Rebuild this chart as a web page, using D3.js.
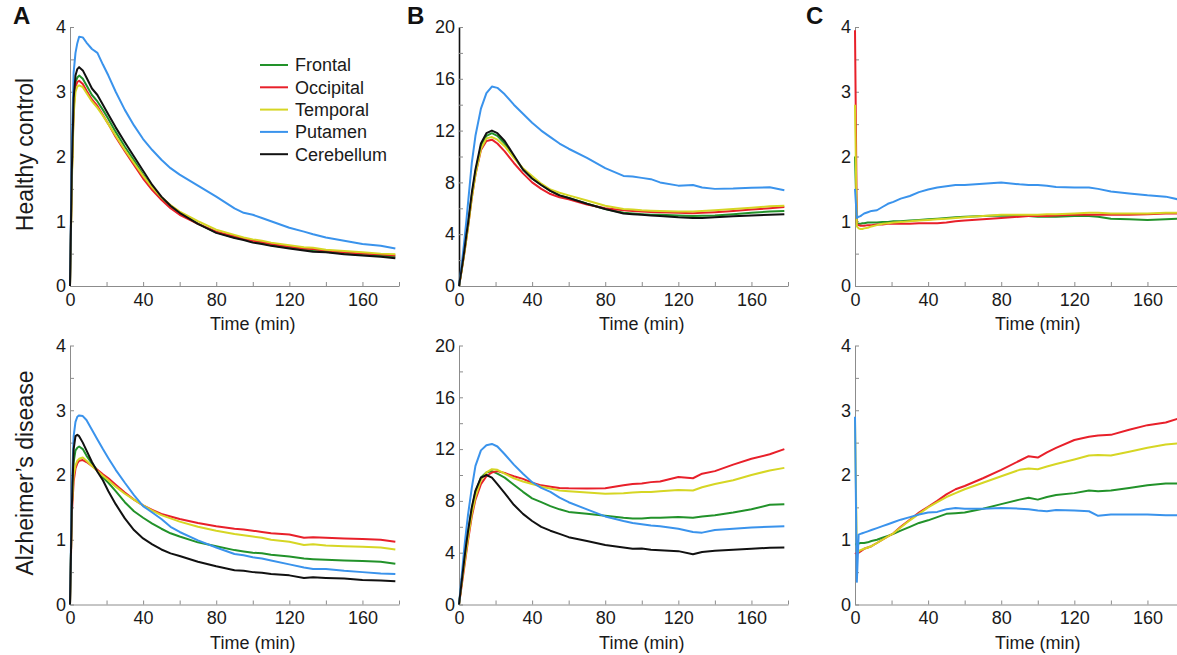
<!DOCTYPE html>
<html>
<head>
<meta charset="utf-8">
<script src="https://cdn.jsdelivr.net/npm/d3@7"></script>
<style>
  body { margin: 0; background: #fff; }
  svg { display: block; font-family: "Liberation Sans", Arial, sans-serif; }
  .axis path, .axis line { stroke: #8c8c8c; stroke-width: 1; }
  .axis text { font-size: 18px; fill: #1a1a1a; }
</style>
</head>
<body>
<svg id="chart" width="1177" height="655"></svg>
<script>
// shared sampling grid (min)
var minutes = [0, 1, 2, 3, 4, 5, 7, 9, 12, 15, 18, 21, 25, 30, 35, 40, 45, 50,
  55, 60, 70, 80, 90, 95, 100, 105, 110, 120, 128, 133, 140, 150, 160, 170, 178];

var regions = ["Frontal", "Occipital", "Temporal", "Putamen", "Cerebellum"];
var regionColors = ["#22922a", "#e8202a", "#d6d624", "#3a93ec", "#111111"];
var rowTitles = ["Healthy control", "Alzheimer\u2019s disease"];
var panelLetters = ["A", "B", "C"];
var timeTicks = [0, 20, 40, 60, 80, 100, 120, 140, 160, 180];

// A, healthy control
var aHcFrontal = [0,1.7,2.8,3.15,3.22,3.25, 3.2,3.1,2.95,2.85,2.72,2.58, 2.38,2.15,1.94,1.72,1.52,1.36,
  1.23,1.12,0.96,0.83,0.75,0.72, 0.68,0.66,0.63,0.59,0.56,0.55, 0.53,0.5,0.48,0.47,0.45];
var aHcOccipital = [0,1.7,2.75,3.08,3.15,3.17, 3.12,3.02,2.88,2.78,2.64,2.5, 2.3,2.08,1.87,1.66,1.48,1.33,
  1.2,1.1,0.96,0.84,0.77,0.73, 0.7,0.68,0.65,0.61,0.58,0.57, 0.55,0.52,0.5,0.49,0.47];
var aHcTemporal = [0,1.6,2.65,3.0,3.08,3.1, 3.07,2.98,2.85,2.75,2.63,2.5, 2.32,2.1,1.9,1.7,1.52,1.37,
  1.25,1.15,1.0,0.87,0.79,0.75, 0.72,0.7,0.67,0.63,0.6,0.59, 0.56,0.54,0.52,0.5,0.49];
var aHcPutamen = [0,2.2,3.3,3.6,3.75,3.85, 3.84,3.76,3.66,3.6,3.42,3.25, 3.0,2.72,2.48,2.27,2.1,1.95,
  1.82,1.72,1.55,1.38,1.2,1.13, 1.1,1.05,1.0,0.9,0.84,0.8, 0.75,0.7,0.65,0.62,0.58];
var aHcCerebellum = [0,1.8,2.9,3.25,3.35,3.38, 3.33,3.22,3.05,2.95,2.8,2.65, 2.45,2.22,2.0,1.78,1.56,1.38,
  1.24,1.13,0.96,0.82,0.74,0.71, 0.67,0.65,0.62,0.58,0.55,0.53, 0.52,0.49,0.47,0.45,0.43];

// A, Alzheimer's disease
var aAdFrontal = [0,1.5,2.2,2.38,2.42,2.44, 2.4,2.3,2.18,2.07,1.96,1.88, 1.75,1.58,1.44,1.34,1.25,1.17,
  1.1,1.05,0.96,0.9,0.84,0.82, 0.8,0.79,0.77,0.74,0.71,0.7, 0.69,0.68,0.67,0.66,0.63];
var aAdOccipital = [0,1.4,1.9,2.1,2.18,2.22, 2.23,2.2,2.14,2.08,2.01,1.95, 1.85,1.73,1.62,1.53,1.46,1.4,
  1.36,1.32,1.26,1.21,1.17,1.16, 1.14,1.12,1.1,1.08,1.03,1.04, 1.03,1.02,1.01,1.0,0.97];
var aAdTemporal = [0,1.5,2.0,2.15,2.22,2.25, 2.27,2.22,2.14,2.06,1.99,1.92, 1.82,1.71,1.62,1.53,1.45,1.38,
  1.33,1.28,1.2,1.14,1.09,1.07, 1.05,1.03,1.0,0.97,0.92,0.93, 0.91,0.9,0.89,0.88,0.85];
var aAdPutamen = [0,1.8,2.6,2.82,2.9,2.92, 2.91,2.85,2.7,2.55,2.4,2.26, 2.08,1.88,1.69,1.52,1.42,1.32,
  1.2,1.12,0.99,0.88,0.78,0.76, 0.73,0.71,0.68,0.62,0.57,0.55, 0.55,0.52,0.5,0.48,0.47];
var aAdCerebellum = [0,1.5,2.4,2.6,2.62,2.6, 2.5,2.38,2.2,2.05,1.92,1.75, 1.55,1.33,1.15,1.02,0.93,0.85,
  0.79,0.75,0.66,0.59,0.53,0.52, 0.5,0.49,0.47,0.45,0.41,0.42, 0.41,0.4,0.38,0.37,0.36];

// B, healthy control
var bHcFrontal = [0,0.9,1.8,2.8,3.8,4.8, 7.0,8.8,10.8,11.6,11.8,11.6, 11.0,10.0,9.0,8.3,7.8,7.35,
  7.0,6.8,6.35,5.95,5.65,5.6, 5.55,5.5,5.5,5.45,5.4,5.42, 5.45,5.55,5.65,5.75,5.8];
var bHcOccipital = [0,0.8,1.7,2.6,3.6,4.6, 6.8,8.6,10.5,11.2,11.3,11.0, 10.4,9.5,8.7,8.0,7.5,7.1,
  6.85,6.7,6.3,6.0,5.85,5.8, 5.75,5.72,5.7,5.65,5.62,5.65, 5.7,5.8,5.9,6.0,6.1];
var bHcTemporal = [0,0.8,1.7,2.6,3.6,4.6, 6.8,8.6,10.6,11.4,11.5,11.3, 10.8,9.9,9.1,8.5,7.9,7.45,
  7.2,7.0,6.6,6.2,5.95,5.9, 5.85,5.82,5.8,5.75,5.75,5.8, 5.85,5.95,6.05,6.15,6.2];
var bHcPutamen = [0,1.1,2.3,3.6,5.0,6.5, 9.5,11.6,13.7,14.9,15.4,15.3, 14.8,14.0,13.3,12.6,12.0,11.5,
  11.0,10.6,9.9,9.1,8.5,8.45, 8.35,8.25,8.0,7.75,7.8,7.6, 7.5,7.52,7.58,7.62,7.4];
var bHcCerebellum = [0,0.9,1.8,2.8,3.9,4.9, 7.2,9.0,11.0,11.8,12.0,11.8, 11.2,10.1,9.0,8.3,7.8,7.35,
  7.0,6.8,6.35,5.95,5.6,5.55, 5.5,5.45,5.4,5.3,5.25,5.25, 5.3,5.38,5.45,5.5,5.55];

// B, Alzheimer's disease
var bAdFrontal = [0,1.2,2.4,3.6,4.6,5.6, 7.4,8.7,9.8,10.2,10.3,10.1, 9.8,9.25,8.7,8.2,7.9,7.6,
  7.35,7.15,7.0,6.85,6.7,6.65, 6.65,6.7,6.7,6.75,6.7,6.8, 6.9,7.1,7.35,7.7,7.75];
var bAdOccipital = [0,1.0,2.0,3.0,4.0,5.0, 6.8,8.1,9.3,9.9,10.2,10.3, 10.15,9.9,9.7,9.4,9.2,9.1,
  9.0,8.97,8.95,8.97,9.2,9.3, 9.35,9.45,9.5,9.85,9.75,10.1, 10.3,10.8,11.25,11.6,12.0];
var bAdTemporal = [0,1.1,2.2,3.2,4.2,5.2, 7.0,8.3,9.6,10.2,10.45,10.4, 10.1,9.75,9.5,9.3,9.1,8.95,
  8.8,8.75,8.65,8.55,8.6,8.65, 8.68,8.68,8.75,8.85,8.8,9.05, 9.3,9.6,10.0,10.35,10.55];
var bAdPutamen = [0,1.5,3.0,4.5,5.8,7.0, 9.0,10.7,11.9,12.3,12.4,12.2, 11.6,10.8,10.1,9.45,9.0,8.7,
  8.25,7.9,7.35,6.8,6.45,6.3, 6.2,6.1,6.05,5.85,5.6,5.55, 5.75,5.85,5.95,6.0,6.05];
var bAdCerebellum = [0,1.2,2.4,3.6,4.7,5.7, 7.5,8.8,9.8,10.0,9.8,9.3, 8.6,7.7,7.0,6.45,6.0,5.7,
  5.45,5.2,4.9,4.6,4.4,4.3, 4.32,4.22,4.18,4.12,3.88,4.05, 4.15,4.22,4.3,4.38,4.4];

// C, healthy control (no cerebellum curve)
var cHcFrontal = [2.0,0.97,0.96,0.96,0.97,0.97, 0.98,0.98,0.98,0.99,0.99,1.0, 1.0,1.01,1.02,1.03,1.04,1.05,
  1.06,1.07,1.08,1.09,1.08,1.08, 1.07,1.07,1.07,1.08,1.08,1.07, 1.04,1.03,1.02,1.03,1.04];
var cHcOccipital = [3.95,0.95,0.94,0.93,0.93,0.93, 0.94,0.94,0.95,0.95,0.96,0.96, 0.96,0.96,0.97,0.97,0.97,0.98,
  1.0,1.01,1.03,1.05,1.07,1.08, 1.08,1.08,1.09,1.1,1.1,1.1, 1.1,1.1,1.11,1.12,1.12];
var cHcTemporal = [2.8,0.92,0.89,0.88,0.88,0.89, 0.9,0.92,0.94,0.96,0.97,0.98, 0.99,1.0,1.01,1.02,1.03,1.04,
  1.05,1.06,1.08,1.1,1.1,1.1, 1.1,1.11,1.11,1.12,1.13,1.13, 1.12,1.12,1.12,1.13,1.13];
var cHcPutamen = [1.5,1.05,1.07,1.08,1.1,1.12, 1.14,1.16,1.17,1.22,1.27,1.3, 1.35,1.39,1.45,1.49,1.52,1.54,
  1.56,1.56,1.58,1.6,1.57,1.56, 1.56,1.55,1.53,1.52,1.52,1.5, 1.46,1.43,1.4,1.38,1.33];

// C, Alzheimer's disease
var cAdFrontal = [0.93,0.93,0.94,0.95,0.95,0.95, 0.96,0.98,1.0,1.03,1.06,1.09, 1.14,1.2,1.26,1.3,1.35,1.4,
  1.41,1.42,1.48,1.55,1.62,1.65, 1.62,1.66,1.69,1.72,1.76,1.75, 1.76,1.8,1.84,1.87,1.87];
var cAdOccipital = [0.8,0.78,0.8,0.82,0.84,0.86, 0.88,0.9,0.95,1.0,1.05,1.1, 1.2,1.31,1.42,1.51,1.6,1.7,
  1.78,1.83,1.95,2.08,2.22,2.29, 2.27,2.35,2.42,2.54,2.59,2.61, 2.62,2.7,2.77,2.81,2.88];
var cAdTemporal = [2.85,0.8,0.82,0.84,0.85,0.86, 0.88,0.9,0.95,1.0,1.05,1.1, 1.19,1.3,1.4,1.5,1.58,1.66,
  1.72,1.78,1.88,1.98,2.08,2.1, 2.09,2.13,2.17,2.24,2.3,2.31, 2.3,2.36,2.42,2.47,2.49];
var cAdPutamen = [2.9,0.35,1.08,1.09,1.1,1.11, 1.13,1.15,1.18,1.21,1.24,1.27, 1.31,1.35,1.39,1.42,1.43,1.47,
  1.49,1.48,1.48,1.49,1.48,1.47, 1.45,1.44,1.46,1.45,1.44,1.37, 1.39,1.39,1.39,1.38,1.38];

var svg = d3.select("#chart");
svg.append("rect").attr("width", 1177).attr("height", 655).attr("fill", "#fff");

var colLeft = [70, 459, 855];
var plotW = 329;
var rowBox = [{ top: 27, bottom: 286 }, { top: 345.5, bottom: 604.5 }];

var panels = [
  { col: 0, row: 0, yMax: 4, yStep: 0.5, yLabelStep: 1, curves: [aHcFrontal, aHcOccipital, aHcTemporal, aHcPutamen, aHcCerebellum] },
  { col: 0, row: 1, yMax: 4, yStep: 0.5, yLabelStep: 1, curves: [aAdFrontal, aAdOccipital, aAdTemporal, aAdPutamen, aAdCerebellum] },
  { col: 1, row: 0, yMax: 20, yStep: 2, yLabelStep: 4, darkY: true, curves: [bHcFrontal, bHcOccipital, bHcTemporal, bHcPutamen, bHcCerebellum] },
  { col: 1, row: 1, yMax: 20, yStep: 2, yLabelStep: 4, curves: [bAdFrontal, bAdOccipital, bAdTemporal, bAdPutamen, bAdCerebellum] },
  { col: 2, row: 0, yMax: 4, yStep: 0.5, yLabelStep: 1, curves: [cHcFrontal, cHcOccipital, cHcTemporal, cHcPutamen] },
  { col: 2, row: 1, yMax: 4, yStep: 0.5, yLabelStep: 1, curves: [cAdFrontal, cAdOccipital, cAdTemporal, cAdPutamen] }
];

panels.forEach(function(p) {
  var box = rowBox[p.row];
  var x = d3.scaleLinear().domain([0, 180]).range([colLeft[p.col], colLeft[p.col] + plotW]);
  var y = d3.scaleLinear().domain([0, p.yMax]).range([box.bottom, box.top]);

  var xAxis = d3.axisBottom(x)
    .tickValues(timeTicks)
    .tickSize(-4).tickSizeOuter(0).tickPadding(7)
    .tickFormat(function(t) { return t % 40 === 0 && t < 180 ? t : ""; });
  svg.append("g").attr("class", "axis")
    .attr("transform", "translate(0," + box.bottom + ")")
    .call(xAxis);

  var yTicks = d3.range(0, p.yMax + p.yStep / 2, p.yStep);
  var yAxis = d3.axisLeft(y)
    .tickValues(yTicks)
    .tickSize(-4).tickSizeOuter(0).tickPadding(4)
    .tickFormat(function(v) {
      return Math.abs(v / p.yLabelStep - Math.round(v / p.yLabelStep)) < 1e-6 ? v : "";
    });
  var yg = svg.append("g").attr("class", "axis")
    .attr("transform", "translate(" + colLeft[p.col] + ",0)")
    .call(yAxis);
  if (p.darkY) {
    yg.select(".domain").style("stroke", "#111").style("stroke-width", 1.6);
  }

  svg.append("text")
    .attr("x", x(100)).attr("y", box.bottom + 44)
    .attr("text-anchor", "middle")
    .style("font-size", "18px").style("fill", "#1a1a1a")
    .text("Time (min)");

  var line = d3.line()
    .x(function(d, i) { return x(minutes[i]); })
    .y(function(d) { return y(d); });

  svg.append("g").selectAll("path").data(p.curves)
    .enter().append("path")
    .attr("d", line)
    .attr("fill", "none")
    .attr("stroke", function(d, i) { return regionColors[i]; })
    .attr("stroke-width", 2)
    .attr("stroke-linejoin", "round");
});

// row titles
rowTitles.forEach(function(t, r) {
  var mid = (rowBox[r].top + rowBox[r].bottom) / 2;
  svg.append("text")
    .attr("transform", "translate(33," + (mid - 2) + ") rotate(-90)")
    .attr("text-anchor", "middle")
    .style("font-size", "23px").style("fill", "#1a1a1a")
    .text(t);
});

// panel letters
panelLetters.forEach(function(l, c) {
  svg.append("text")
    .attr("x", [13, 407, 806][c]).attr("y", 24)
    .style("font-size", "24px").style("font-weight", "bold").style("fill", "#111")
    .text(l);
});

// legend
var legend = svg.append("g").attr("transform", "translate(260,65)");
var item = legend.selectAll("g").data(regions).enter().append("g")
  .attr("transform", function(d, i) { return "translate(0," + (i * 22.3) + ")"; });
item.append("line")
  .attr("x1", 0).attr("x2", 28).attr("y1", 0).attr("y2", 0)
  .attr("stroke", function(d, i) { return regionColors[i]; })
  .attr("stroke-width", 2);
item.append("text")
  .attr("x", 35).attr("y", 0).attr("dy", "0.35em")
  .style("font-size", "18px").style("fill", "#1a1a1a")
  .text(function(d) { return d; });
</script>
</body>
</html>
